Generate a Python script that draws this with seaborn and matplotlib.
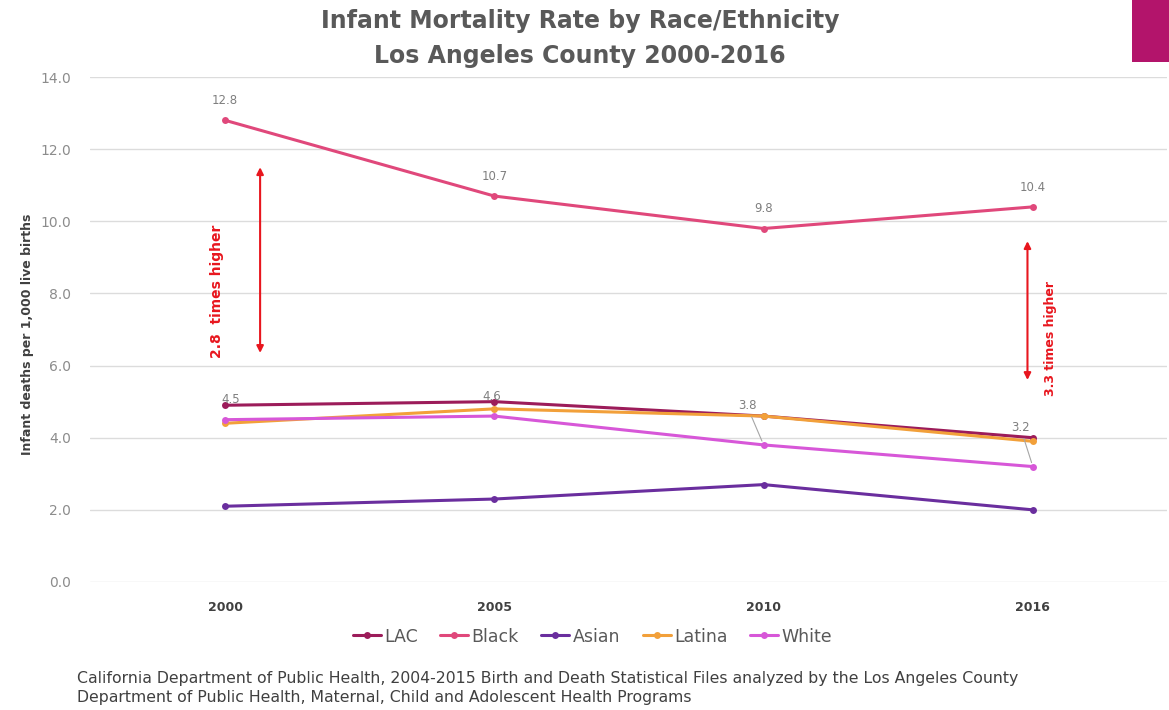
import matplotlib
matplotlib.use("Agg")
import matplotlib.pyplot as plt
import matplotlib.patches as mpatches
import seaborn as sns
import pandas as pd

# Infant deaths per 1,000 live births, Los Angeles County
years = ["2000", "2005", "2010", "2016"]
groups = ["LAC", "Black", "Asian", "Latina", "White"]
lac = [4.9, 5.0, 4.6, 4.0]
black = [12.8, 10.7, 9.8, 10.4]
asian = [2.1, 2.3, 2.7, 2.0]
latina = [4.4, 4.8, 4.6, 3.9]
white = [4.5, 4.6, 3.8, 3.2]
colors = ["#9C1C5A", "#E0487B", "#6A2E9E", "#F2A03A", "#D757D8"]

series = dict(zip(groups, [lac, black, asian, latina, white]))
df = pd.DataFrame(
    [(y, g, v) for g in groups for y, v in zip(years, series[g])],
    columns=["year", "group", "rate"],
)

sns.set_theme(style="white")
plt.rcParams["font.family"] = ["DejaVu Sans"]

fig = plt.figure(figsize=(11.69, 7.10), dpi=100)
ax = fig.add_axes([0.0774, 0.1803, 0.9213, 0.7112])

sns.lineplot(
    data=df, x="year", y="rate", hue="group", hue_order=groups,
    palette=colors, marker="o", markersize=5, markeredgewidth=0,
    linewidth=2.2, sort=False, ax=ax, legend=True,
)

ax.set_xlim(-0.5, 3.5)
ax.set_ylim(0, 14)
ax.set_yticks([0, 2, 4, 6, 8, 10, 12, 14])
ax.set_yticklabels([f"{v:.1f}" for v in ax.get_yticks()], color="#8C8C8C", fontsize=10)
ax.set_xticks(range(len(years)))
ax.set_xticklabels(years, fontsize=9, fontweight="bold", color="#404040")
ax.tick_params(axis="both", length=0)
ax.tick_params(axis="y", pad=14)
ax.tick_params(axis="x", pad=14)
ax.grid(axis="y", color="#DCDCDC", linewidth=1)
for s in ax.spines.values():
    s.set_visible(False)
ax.set_xlabel("")
ax.set_ylabel("Infant deaths per 1,000 live births", fontsize=9,
              fontweight="bold", color="#404040")
ax.yaxis.set_label_coords(-0.052, 0.49)

# value labels for the Black series
for i, v in enumerate(black):
    ax.annotate(f"{v:.1f}", (i, v), xytext=(0, 9.5), textcoords="offset points",
                ha="center", va="bottom", fontsize=8.5, color="#7F7F7F")

# value labels for the White series
label_offsets = [(4, 9.5), (-2, 9.5), (-12, 23.5), (-9, 23.5)]
for i, (v, off) in enumerate(zip(white, label_offsets)):
    arrow = None
    if i >= 2:
        arrow = dict(arrowstyle="-", color="#A6A6A6", lw=0.8, shrinkA=1, shrinkB=3)
    ax.annotate(f"{v:.1f}", (i, v), xytext=off, textcoords="offset points",
                ha="center", va="bottom", fontsize=8.5, color="#7F7F7F",
                arrowprops=arrow)

# disparity arrows
red = "#E8161E"
ax.annotate("", xy=(0.13, 11.5), xytext=(0.13, 6.35),
            arrowprops=dict(arrowstyle="<|-|>", color=red, lw=1.5,
                            mutation_scale=10, shrinkA=0, shrinkB=0))
ax.text(-0.03, 8.05, "2.8  times higher", rotation=90, ha="center", va="center",
        fontsize=10, fontweight="bold", color=red)
ax.annotate("", xy=(2.98, 9.45), xytext=(2.98, 5.6),
            arrowprops=dict(arrowstyle="<|-|>", color=red, lw=1.5,
                            mutation_scale=10, shrinkA=0, shrinkB=0))
ax.text(3.065, 6.75, "3.3 times higher", rotation=90, ha="center", va="center",
        fontsize=9, fontweight="bold", color=red)

# legend below the axis
handles, labels = ax.get_legend_handles_labels()
ax.legend(handles, labels, loc="center", bbox_to_anchor=(0.466, -0.108),
          ncol=5, frameon=False, fontsize=12.5, handlelength=1.6,
          handletextpad=0.2, columnspacing=1.3, labelcolor="#595959")

fig.text(0.496, 0.987, "Infant Mortality Rate by Race/Ethnicity\nLos Angeles County 2000-2016",
         ha="center", va="top", fontsize=17, fontweight="bold", color="#595959",
         linespacing=1.55)

fig.text(0.066, 0.0315,
         "California Department of Public Health, 2004-2015 Birth and Death Statistical Files analyzed by the Los Angeles County\n"
         "Department of Public Health, Maternal, Child and Adolescent Health Programs",
         ha="left", va="center", fontsize=11.3, color="#404040", linespacing=1.35)

# accent block in the top-right corner
fig.patches.append(mpatches.Rectangle((1132 / 1169, 1 - 62 / 710), 37 / 1169, 62 / 710,
                                      transform=fig.transFigure, facecolor="#B3146B",
                                      edgecolor="none", zorder=5))

fig.savefig("out.png", dpi=100, facecolor="white")
